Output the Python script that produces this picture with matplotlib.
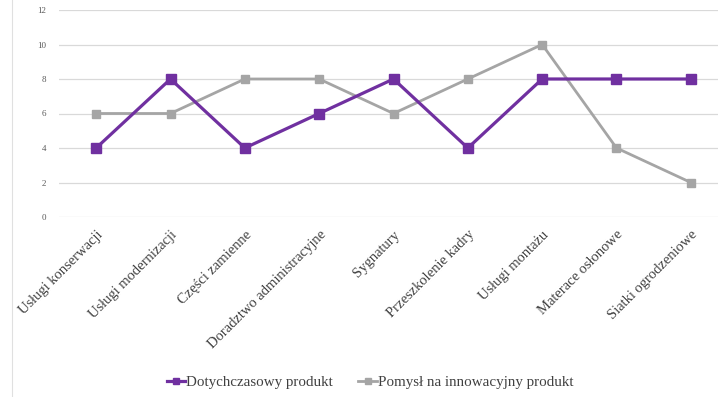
import matplotlib
matplotlib.use("Agg")
import matplotlib.pyplot as plt
from matplotlib.lines import Line2D

categories = ["Usługi konserwacji", "Usługi modernizacji", "Części zamienne",
              "Doradztwo administracyjne", "Sygnatury", "Przeszkolenie kadry",
              "Usługi montażu", "Materace osłonowe", "Siatki ogrodzeniowe"]
dotychczasowy = [4, 8, 4, 6, 8, 4, 8, 8, 8]
pomysl = [6, 6, 8, 8, 6, 8, 10, 4, 2]
series_names = ["Dotychczasowy produkt", "Pomysł na innowacyjny produkt"]
yticks = [0, 2, 4, 6, 8, 10, 12]

plt.rcParams['font.family'] = ['Liberation Serif', 'DejaVu Serif']

fig = plt.figure(figsize=(7.18, 3.97), dpi=100)
ax = fig.add_axes([59/718, 1-217/397, (728-59)/718, (217-10)/397])

x = list(range(len(categories)))
purple = "#7030A0"
grey = "#A5A5A5"
ax.plot(x, pomysl, color=grey, lw=2.0, marker='s', ms=6, zorder=3)
ax.plot(x, dotychczasowy, color=purple, lw=2.3, marker='s', ms=6.5, zorder=4)

ax.set_xlim(-0.5, len(categories)-0.5)
ax.set_ylim(0, 12)
ax.set_yticks(yticks)
ax.set_yticklabels([str(v) for v in yticks], fontsize=6.5, color="#595959")
ax.yaxis.grid(True, color="#D9D9D9", lw=0.9)
ax.set_axisbelow(True)
for s in ax.spines.values():
    s.set_visible(False)
ax.tick_params(axis='y', length=0, pad=9)
ax.set_xticks(x)
ax.set_xticklabels(categories, rotation=45, ha='right', rotation_mode='anchor',
                   fontsize=10.5, color="#404040")
ax.tick_params(axis='x', length=0, pad=8)

handles = [Line2D([], [], color=purple, lw=2.3, marker='s', ms=5),
           Line2D([], [], color=grey, lw=2.0, marker='s', ms=5)]
fig.legend(handles, series_names, loc='center', bbox_to_anchor=(370/718, 1-382/397),
           ncol=2, frameon=False, fontsize=10.8, handlelength=1.25, handletextpad=0.05,
           columnspacing=1.7, labelcolor="#404040")

fig.add_artist(Line2D([12/718, 12/718], [0, 1], color="#E0E0E0", lw=0.8,
                      transform=fig.transFigure))

fig.savefig("out.png", dpi=100)
